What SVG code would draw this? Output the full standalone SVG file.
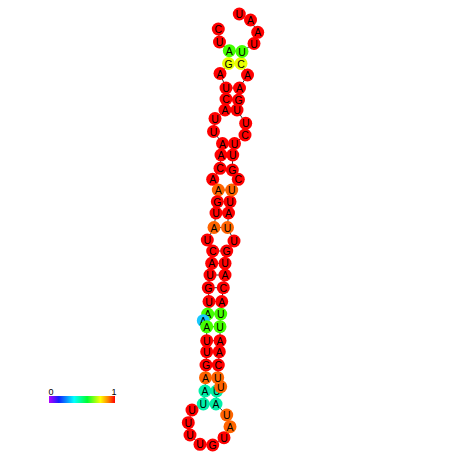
<svg xmlns="http://www.w3.org/2000/svg" width="452" height="452" viewBox="0 0 452 452">
<style>
circle{stroke:none}
.r{fill:#ff0000}.o{fill:#ff6400}.g{fill:#44ff00}.y{fill:#e8ff00}.c{fill:#00f0a8}.b{fill:#18c8ff}
text{font-family:"Liberation Sans",Arial,sans-serif;font-size:10.5px;fill:#000;text-anchor:middle;dominant-baseline:central}
.bb{fill:none;stroke:#333;stroke-width:1}
.bp{stroke:#333;stroke-width:1}
.lbl{font-size:9px;dominant-baseline:auto}
</style>
<defs>
<linearGradient id="scale" x1="0" y1="0" x2="1" y2="0">
<stop offset="0" stop-color="#b400ff"/>
<stop offset="0.15" stop-color="#1020ff"/>
<stop offset="0.38" stop-color="#00ffff"/>
<stop offset="0.58" stop-color="#00ff30"/>
<stop offset="0.78" stop-color="#ffff00"/>
<stop offset="0.9" stop-color="#ff8000"/>
<stop offset="1" stop-color="#ff0000"/>
</linearGradient>
</defs>
<g id="connectors">
<polyline class="bb" points="218.3,29 219.5,42 229.3,50.7 228.5,63.5 220,73.5 226,88 226,99 225,110 215,118.5 213.5,131.5 222.5,143.5 221,155 220,168.3 212.7,179.3 218.3,190 217.3,201.7 216,213 214,227.5 207.3,240 212.7,251 211.7,263.3 210,275 208.3,287.7 209,301.5 207.7,314 203.3,320.7 206.7,326.7 206.7,340.7 206.7,351.7 206,365 205.5,377.7 205,391 203.3,404 192,410 188.3,422.7 190,435 200,444.3 212.7,445 224,437.7 230,426.7 226.7,415 216,404 216.7,391 220.7,386.7 217.7,377.7 218.3,365 219.3,351.7 220,340.7 220,326.7 220.7,314 221.7,301.5 223.3,287.7 225,275 225,263.3 226.7,251 234,241 227.5,227.5 228.5,213 230,201.7 231.7,190 238.3,179.3 232.3,170 232.7,155 234.5,143.5 245,135 245.7,123.3 237,110 238.5,100 239.5,88 247.5,75 241,63.5 242,51.5 254,43.5 257.7,32.3 250.5,20 239.3,14"/>
<line class="bp" x1="229.3" y1="50.7" x2="242" y2="51.5"/>
<line class="bp" x1="228.5" y1="63.5" x2="241" y2="63.5"/>
<line class="bp" x1="226" y1="88" x2="239.5" y2="88"/>
<line class="bp" x1="226" y1="99" x2="238.5" y2="100"/>
<line class="bp" x1="225" y1="110" x2="237" y2="110"/>
<line class="bp" x1="222.5" y1="143.5" x2="234.5" y2="143.5"/>
<line class="bp" x1="221" y1="155" x2="232.7" y2="155"/>
<line class="bp" x1="220" y1="168.3" x2="232.3" y2="170"/>
<line class="bp" x1="218.3" y1="190" x2="231.7" y2="190"/>
<line class="bp" x1="217.3" y1="201.7" x2="230" y2="201.7"/>
<line class="bp" x1="216" y1="213" x2="228.5" y2="213"/>
<line class="bp" x1="214" y1="227.5" x2="227.5" y2="227.5"/>
<line class="bp" x1="212.7" y1="251" x2="226.7" y2="251"/>
<line class="bp" x1="211.7" y1="263.3" x2="225" y2="263.3"/>
<line class="bp" x1="210" y1="275" x2="225" y2="275"/>
<line class="bp" x1="208.3" y1="287.7" x2="223.3" y2="287.7"/>
<line class="bp" x1="209" y1="301.5" x2="221.7" y2="301.5"/>
<line class="bp" x1="207.7" y1="314" x2="220.7" y2="314"/>
<line class="bp" x1="206.7" y1="326.7" x2="220" y2="326.7"/>
<line class="bp" x1="206.7" y1="340.7" x2="220" y2="340.7"/>
<line class="bp" x1="206.7" y1="351.7" x2="219.3" y2="351.7"/>
<line class="bp" x1="206" y1="365" x2="218.3" y2="365"/>
<line class="bp" x1="205.5" y1="377.7" x2="217.7" y2="377.7"/>
<line class="bp" x1="205" y1="391" x2="216.7" y2="391"/>
<line class="bp" x1="203.3" y1="404" x2="216" y2="404"/>
</g>
<g id="n1"><circle class="r" cx="218.3" cy="29" r="6.5"/><text x="218.3" y="29">C</text></g>
<g id="n2"><circle class="r" cx="219.5" cy="42" r="6.5"/><text x="219.5" y="42">U</text></g>
<g id="n3"><circle class="g" cx="229.3" cy="50.7" r="6.5"/><text x="229.3" y="50.7">A</text></g>
<g id="n4"><circle class="y" cx="228.5" cy="63.5" r="6.5"/><text x="228.5" y="63.5">G</text></g>
<g id="n5"><circle class="r" cx="220" cy="73.5" r="6.5"/><text x="220" y="73.5">A</text></g>
<g id="n6"><circle class="r" cx="226" cy="88" r="6.5"/><text x="226" y="88">U</text></g>
<g id="n7"><circle class="r" cx="226" cy="99" r="6.5"/><text x="226" y="99">C</text></g>
<g id="n8"><circle class="r" cx="225" cy="110" r="6.5"/><text x="225" y="110">A</text></g>
<g id="n9"><circle class="r" cx="215" cy="118.5" r="6.5"/><text x="215" y="118.5">U</text></g>
<g id="n10"><circle class="r" cx="213.5" cy="131.5" r="6.5"/><text x="213.5" y="131.5">U</text></g>
<g id="n11"><circle class="r" cx="222.5" cy="143.5" r="6.5"/><text x="222.5" y="143.5">A</text></g>
<g id="n12"><circle class="r" cx="221" cy="155" r="6.5"/><text x="221" y="155">A</text></g>
<g id="n13"><circle class="r" cx="220" cy="168.3" r="6.5"/><text x="220" y="168.3">C</text></g>
<g id="n14"><circle class="r" cx="212.7" cy="179.3" r="6.5"/><text x="212.7" y="179.3">A</text></g>
<g id="n15"><circle class="o" cx="218.3" cy="190" r="6.5"/><text x="218.3" y="190">A</text></g>
<g id="n16"><circle class="r" cx="217.3" cy="201.7" r="6.5"/><text x="217.3" y="201.7">G</text></g>
<g id="n17"><circle class="r" cx="216" cy="213" r="6.5"/><text x="216" y="213">U</text></g>
<g id="n18"><circle class="o" cx="214" cy="227.5" r="6.5"/><text x="214" y="227.5">A</text></g>
<g id="n19"><circle class="r" cx="207.3" cy="240" r="6.5"/><text x="207.3" y="240">U</text></g>
<g id="n20"><circle class="r" cx="212.7" cy="251" r="6.5"/><text x="212.7" y="251">C</text></g>
<g id="n21"><circle class="r" cx="211.7" cy="263.3" r="6.5"/><text x="211.7" y="263.3">A</text></g>
<g id="n22"><circle class="r" cx="210" cy="275" r="6.5"/><text x="210" y="275">U</text></g>
<g id="n23"><circle class="r" cx="208.3" cy="287.7" r="6.5"/><text x="208.3" y="287.7">G</text></g>
<g id="n24"><circle class="r" cx="209" cy="301.5" r="6.5"/><text x="209" y="301.5">U</text></g>
<g id="n25"><circle class="g" cx="207.7" cy="314" r="6.5"/><text x="207.7" y="314">A</text></g>
<g id="n26"><circle class="b" cx="203.3" cy="320.7" r="6.5"/><text x="203.3" y="320.7">A</text></g>
<g id="n27"><circle class="g" cx="206.7" cy="326.7" r="6.5"/><text x="206.7" y="326.7">A</text></g>
<g id="n28"><circle class="r" cx="206.7" cy="340.7" r="6.5"/><text x="206.7" y="340.7">U</text></g>
<g id="n29"><circle class="r" cx="206.7" cy="351.7" r="6.5"/><text x="206.7" y="351.7">U</text></g>
<g id="n30"><circle class="r" cx="206" cy="365" r="6.5"/><text x="206" y="365">G</text></g>
<g id="n31"><circle class="o" cx="205.5" cy="377.7" r="6.5"/><text x="205.5" y="377.7">A</text></g>
<g id="n32"><circle class="c" cx="205" cy="391" r="6.5"/><text x="205" y="391">A</text></g>
<g id="n33"><circle class="c" cx="203.3" cy="404" r="6.5"/><text x="203.3" y="404">U</text></g>
<g id="n34"><circle class="r" cx="192" cy="410" r="6.5"/><text x="192" y="410">U</text></g>
<g id="n35"><circle class="r" cx="188.3" cy="422.7" r="6.5"/><text x="188.3" y="422.7">U</text></g>
<g id="n36"><circle class="r" cx="190" cy="435" r="6.5"/><text x="190" y="435">U</text></g>
<g id="n37"><circle class="r" cx="200" cy="444.3" r="6.5"/><text x="200" y="444.3">U</text></g>
<g id="n38"><circle class="r" cx="212.7" cy="445" r="6.5"/><text x="212.7" y="445">G</text></g>
<g id="n39"><circle class="r" cx="224" cy="437.7" r="6.5"/><text x="224" y="437.7">U</text></g>
<g id="n40"><circle class="o" cx="230" cy="426.7" r="6.5"/><text x="230" y="426.7">A</text></g>
<g id="n41"><circle class="o" cx="226.7" cy="415" r="6.5"/><text x="226.7" y="415">U</text></g>
<g id="n42"><circle class="c" cx="216" cy="404" r="6.5"/><text x="216" y="404">A</text></g>
<g id="n43"><circle class="c" cx="216.7" cy="391" r="6.5"/><text x="216.7" y="391">U</text></g>
<g id="n44"><circle class="o" cx="220.7" cy="386.7" r="6.5"/><text x="220.7" y="386.7">U</text></g>
<g id="n45"><circle class="o" cx="217.7" cy="377.7" r="6.5"/><text x="217.7" y="377.7">U</text></g>
<g id="n46"><circle class="r" cx="218.3" cy="365" r="6.5"/><text x="218.3" y="365">C</text></g>
<g id="n47"><circle class="r" cx="219.3" cy="351.7" r="6.5"/><text x="219.3" y="351.7">A</text></g>
<g id="n48"><circle class="r" cx="220" cy="340.7" r="6.5"/><text x="220" y="340.7">A</text></g>
<g id="n49"><circle class="g" cx="220" cy="326.7" r="6.5"/><text x="220" y="326.7">U</text></g>
<g id="n50"><circle class="g" cx="220.7" cy="314" r="6.5"/><text x="220.7" y="314">U</text></g>
<g id="n51"><circle class="r" cx="221.7" cy="301.5" r="6.5"/><text x="221.7" y="301.5">A</text></g>
<g id="n52"><circle class="r" cx="223.3" cy="287.7" r="6.5"/><text x="223.3" y="287.7">C</text></g>
<g id="n53"><circle class="r" cx="225" cy="275" r="6.5"/><text x="225" y="275">A</text></g>
<g id="n54"><circle class="r" cx="225" cy="263.3" r="6.5"/><text x="225" y="263.3">U</text></g>
<g id="n55"><circle class="r" cx="226.7" cy="251" r="6.5"/><text x="226.7" y="251">G</text></g>
<g id="n56"><circle class="r" cx="234" cy="241" r="6.5"/><text x="234" y="241">U</text></g>
<g id="n57"><circle class="o" cx="227.5" cy="227.5" r="6.5"/><text x="227.5" y="227.5">U</text></g>
<g id="n58"><circle class="r" cx="228.5" cy="213" r="6.5"/><text x="228.5" y="213">A</text></g>
<g id="n59"><circle class="r" cx="230" cy="201.7" r="6.5"/><text x="230" y="201.7">U</text></g>
<g id="n60"><circle class="o" cx="231.7" cy="190" r="6.5"/><text x="231.7" y="190">U</text></g>
<g id="n61"><circle class="r" cx="238.3" cy="179.3" r="6.5"/><text x="238.3" y="179.3">C</text></g>
<g id="n62"><circle class="r" cx="232.3" cy="170" r="6.5"/><text x="232.3" y="170">G</text></g>
<g id="n63"><circle class="r" cx="232.7" cy="155" r="6.5"/><text x="232.7" y="155">U</text></g>
<g id="n64"><circle class="r" cx="234.5" cy="143.5" r="6.5"/><text x="234.5" y="143.5">U</text></g>
<g id="n65"><circle class="r" cx="245" cy="135" r="6.5"/><text x="245" y="135">C</text></g>
<g id="n66"><circle class="r" cx="245.7" cy="123.3" r="6.5"/><text x="245.7" y="123.3">U</text></g>
<g id="n67"><circle class="r" cx="237" cy="110" r="6.5"/><text x="237" y="110">U</text></g>
<g id="n68"><circle class="r" cx="238.5" cy="100" r="6.5"/><text x="238.5" y="100">G</text></g>
<g id="n69"><circle class="r" cx="239.5" cy="88" r="6.5"/><text x="239.5" y="88">A</text></g>
<g id="n70"><circle class="r" cx="247.5" cy="75" r="6.5"/><text x="247.5" y="75">A</text></g>
<g id="n71"><circle class="y" cx="241" cy="63.5" r="6.5"/><text x="241" y="63.5">C</text></g>
<g id="n72"><circle class="g" cx="242" cy="51.5" r="6.5"/><text x="242" y="51.5">U</text></g>
<g id="n73"><circle class="r" cx="254" cy="43.5" r="6.5"/><text x="254" y="43.5">U</text></g>
<g id="n74"><circle class="r" cx="257.7" cy="32.3" r="6.5"/><text x="257.7" y="32.3">A</text></g>
<g id="n75"><circle class="r" cx="250.5" cy="20" r="6.5"/><text x="250.5" y="20">A</text></g>
<g id="n76"><circle class="r" cx="239.3" cy="14" r="6.5"/><text x="239.3" y="14">U</text></g>
<g id="legend">
<rect x="49" y="396" width="66" height="7" fill="url(#scale)"/>
<text class="lbl" x="51" y="395">0</text>
<text class="lbl" x="114" y="395">1</text>
</g>
</svg>
